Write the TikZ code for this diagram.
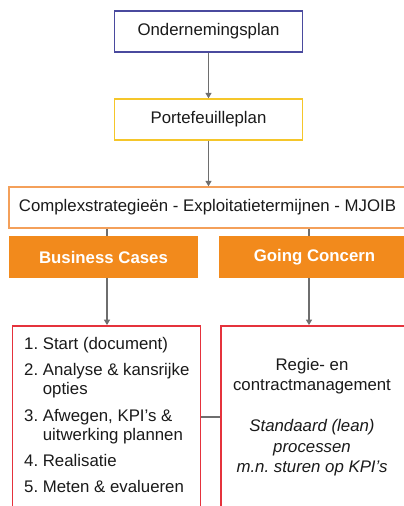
\documentclass[tikz,border=0pt]{standalone}
\usepackage{fontspec}
\setmainfont{Liberation Sans}
\usetikzlibrary{arrows.meta}

\definecolor{planblue}{HTML}{4A4A9E}
\definecolor{planyellow}{HTML}{F5C62A}
\definecolor{lightorange}{HTML}{F4A05A}
\definecolor{casefill}{HTML}{F28A1C}
\definecolor{stepred}{HTML}{E5323C}
\definecolor{linkgray}{HTML}{6E6E6E}
\definecolor{ink}{HTML}{1A1A1A}

\frenchspacing

\tikzset{
  plainfont/.style={font=\fontsize{16.8}{19}\selectfont},
  planbox/.style={draw, line width=1.4pt, fill=white, inner sep=0pt,
    minimum width=188pt, minimum height=41pt, text=ink, plainfont},
  casebox/.style={fill=casefill, inner sep=0pt, minimum height=42pt,
    text=white, font=\fontsize{16.8}{19}\selectfont\bfseries},
  stepbox/.style={draw=stepred, line width=1.4pt, fill=white, inner sep=0pt},
  link/.style={draw=linkgray, line width=1.3pt},
  arr/.style={link, -{Triangle[length=5.5pt,width=6pt]}}
}

\begin{document}
\begin{tikzpicture}[x=1pt,y=-1pt]
\useasboundingbox (0,0) rectangle (404,506);
\clip (0,0) rectangle (404,506);

% top chain
\node[planbox, draw=planblue] (onder) at (208.5,31.5) {Ondernemingsplan};
\node[planbox, draw=planyellow] (porte) at (208.5,119.5) {Portefeuilleplan};
\node[planbox, draw=lightorange, minimum width=397pt] (cplx) at (207.5,207.5)
  {Complexstrategieën - Exploitatietermijnen - MJOIB};

% the two tracks
\node[casebox, minimum width=189pt] (bc) at (103.5,257) {Business Cases};
\node[casebox, minimum width=191pt] (gc) at (314.5,257) {Going Concern};

% detail boxes (run past the lower and right edges)
\node[stepbox, minimum width=188pt, minimum height=204pt] (left) at (106.5,427.8) {};
\node[stepbox, minimum width=194pt, minimum height=204pt] (right) at (317.8,427.8) {};

\node[anchor=north west, align=left, inner sep=0pt, text=ink, plainfont] (steps) at (24,337)
  {1. Start (document)\\[7.5pt]
   2. Analyse \& kansrijke\\
   \hphantom{2. }opties\\[7.5pt]
   3. Afwegen, KPI’s \&\\
   \hphantom{3. }uitwerking plannen\\[7.5pt]
   4. Realisatie\\[6.5pt]
   5. Meten \& evalueren};

\node[align=center, inner sep=0pt, text=ink, font=\fontsize{16.8}{20.5}\selectfont] (gctext) at (312,417)
  {Regie- en\\
   contractmanagement\\[20.5pt]
   \textit{Standaard (lean)}\\
   \textit{processen}\\
   \textit{m.n. sturen op KPI’s}};

% connectors
\coordinate (bx) at (107,0);
\coordinate (gx) at (309,0);
\coordinate (my) at (0,417);

\draw[arr] (onder) -- (porte);
\draw[arr] (porte.south) -- (porte.south |- cplx.north);
\draw[link] (bx |- cplx.south) -- (bx |- bc.north);
\draw[link] (gx |- cplx.south) -- (gx |- gc.north);
\draw[arr] (bx |- bc.south) -- (bx |- left.north);
\draw[arr] (gx |- gc.south) -- (gx |- right.north);
\draw[link] (left.east |- my) -- (right.west |- my);
\end{tikzpicture}
\end{document}
